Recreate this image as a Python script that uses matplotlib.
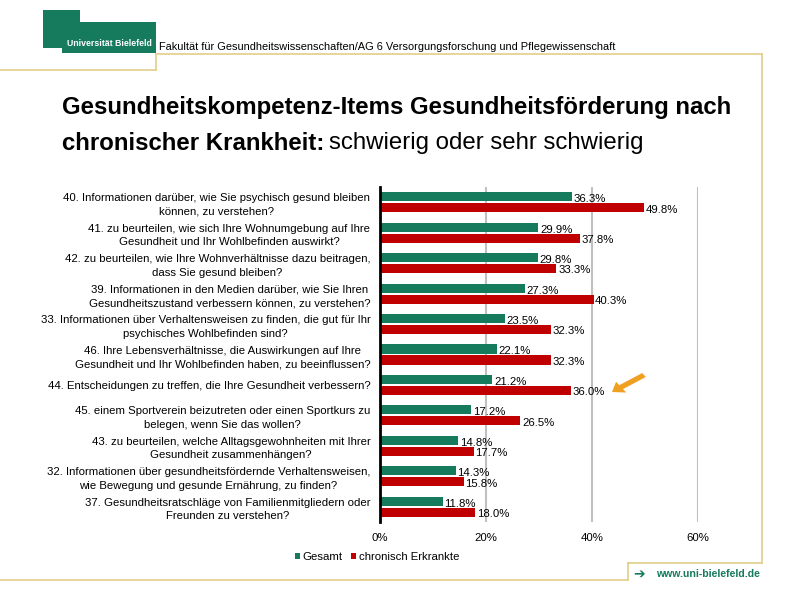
import matplotlib.pyplot as plt
from matplotlib.lines import Line2D
from matplotlib.patches import Polygon, FancyArrow
import numpy as np

plt.rcParams['font.family'] = ['Liberation Sans', 'DejaVu Sans']

items = [
    "40. Informationen darüber, wie Sie psychisch gesund bleiben\nkönnen, zu verstehen?",
    "41. zu beurteilen, wie sich Ihre Wohnumgebung auf Ihre\nGesundheit und Ihr Wohlbefinden auswirkt?",
    "42. zu beurteilen, wie Ihre Wohnverhältnisse dazu beitragen,\ndass Sie gesund bleiben?",
    "39. Informationen in den Medien darüber, wie Sie Ihren\nGesundheitszustand verbessern können, zu verstehen?",
    "33. Informationen über Verhaltensweisen zu finden, die gut für Ihr\npsychisches Wohlbefinden sind?",
    "46. Ihre Lebensverhältnisse, die Auswirkungen auf Ihre\nGesundheit und Ihr Wohlbefinden haben, zu beeinflussen?",
    "44. Entscheidungen zu treffen, die Ihre Gesundheit verbessern?",
    "45. einem Sportverein beizutreten oder einen Sportkurs zu\nbelegen, wenn Sie das wollen?",
    "43. zu beurteilen, welche Alltagsgewohnheiten mit Ihrer\nGesundheit zusammenhängen?",
    "32. Informationen über gesundheitsfördernde Verhaltensweisen,\nwie Bewegung und gesunde Ernährung, zu finden?",
    "37. Gesundheitsratschläge von Familienmitgliedern oder\nFreunden zu verstehen?",
]
gesamt = [36.3, 29.9, 29.8, 27.3, 23.5, 22.1, 21.2, 17.2, 14.8, 14.3, 11.8]
chronisch = [49.8, 37.8, 33.3, 40.3, 32.3, 32.3, 36.0, 26.5, 17.7, 15.8, 18.0]
xticks = [0, 20, 40, 60]

green = '#167a5c'
red = '#c00000'
gold = '#e2cd8a'

W, H = 800, 600
def fx(px):
    return px / W
def fy(py):
    return 1 - py / H

fig = plt.figure(figsize=(8, 6), dpi=100)
ax = fig.add_axes([fx(380), fy(522), fx(698) - fx(380), (522 - 187) / H])

y = np.arange(len(items))
h = 0.3
ax.barh(y - 0.18, gesamt, height=h, color=green, label='Gesamt', zorder=3)
ax.barh(y + 0.18, chronisch, height=h, color=red, label='chronisch Erkrankte', zorder=3)
for i in range(len(items)):
    ax.text(gesamt[i] + 0.3, y[i] - 0.1, f"{gesamt[i]:.1f}%", fontsize=8.2, va='center', ha='left', zorder=4)
    ax.text(chronisch[i] + 0.3, y[i] + 0.24, f"{chronisch[i]:.1f}%", fontsize=8.2, va='center', ha='left', zorder=4)

ax.set_xlim(0, 60)
ax.set_ylim(len(items) - 0.5, -0.5)
ax.set_xticks(xticks)
ax.set_xticklabels([f"{t}%" for t in xticks], fontsize=8.2)
ax.tick_params(axis='x', length=0, pad=8)
ax.set_yticks(y)
ax.set_yticklabels(items, fontsize=8.2, multialignment='center', linespacing=1.45)
ax.tick_params(axis='y', length=0, pad=7)
for s in ['top', 'right', 'bottom']:
    ax.spines[s].set_visible(False)
ax.spines['left'].set_linewidth(2)
ax.spines['left'].set_zorder(5)
ax.grid(axis='x', color='#c0c0c0', linewidth=1.5, zorder=0)
ax.set_axisbelow(True)

fig.legend(loc='center', bbox_to_anchor=(fx(377), fy(557)), ncol=2, frameon=False,
           fontsize=8.2, handlelength=0.5, handleheight=0.5, handletextpad=0.2,
           columnspacing=0.7)

# logo
logo = Polygon([(fx(43), fy(10)), (fx(80), fy(10)), (fx(80), fy(22)), (fx(156), fy(22)),
                (fx(156), fy(53)), (fx(62), fy(53)), (fx(62), fy(48)), (fx(43), fy(48))],
               closed=True, transform=fig.transFigure, color=green, lw=0)
fig.add_artist(logo)
fig.text(fx(109), fy(44), "Universität Bielefeld", color='white', fontsize=6.3,
         fontweight='bold', ha='center', va='center')
fig.text(fx(159), fy(47), "Fakultät für Gesundheitswissenschaften/AG 6 Versorgungsforschung und Pflegewissenschaft",
         fontsize=7.9, ha='left', va='center')

# frame lines
frame = [((0, 70), (156, 70)), ((156, 70), (156, 54)), ((156, 54), (762, 54)),
         ((762, 54), (762, 563)), ((762, 563), (628, 563)), ((628, 563), (628, 580)),
         ((628, 580), (0, 580))]
for (x0, y0), (x1, y1) in frame:
    fig.add_artist(Line2D([fx(x0), fx(x1)], [fy(y0), fy(y1)], color=gold, lw=1.2,
                          transform=fig.transFigure))

fig.text(fx(633), fy(574), "➔", color=green, fontsize=10, fontweight='bold',
         ha='left', va='center')
fig.text(fx(656), fy(574), "www.uni-bielefeld.de", color=green, fontsize=7.6,
         fontweight='bold', ha='left', va='center')

# title
fig.text(fx(62), fy(108), "Gesundheitskompetenz-Items Gesundheitsförderung nach",
         fontsize=17.3, fontweight='bold', ha='left', va='center')
t2 = fig.text(fx(62), fy(143), "chronischer Krankheit:", fontsize=17.3, fontweight='bold',
              ha='left', va='center')
fig.canvas.draw()
bb = t2.get_window_extent()
fig.text(bb.x1 / W + fx(5), fy(143), "schwierig oder sehr schwierig", fontsize=17.3,
         ha='left', va='center')

# orange arrow
fig.add_artist(FancyArrow(fx(644), fy(375), fx(612) - fx(644), fy(392) - fy(375),
                          width=0.008, head_width=0.022, head_length=0.014,
                          length_includes_head=True, color='#f0a020',
                          transform=fig.transFigure, lw=0))

fig.savefig("out.png", dpi=100)
